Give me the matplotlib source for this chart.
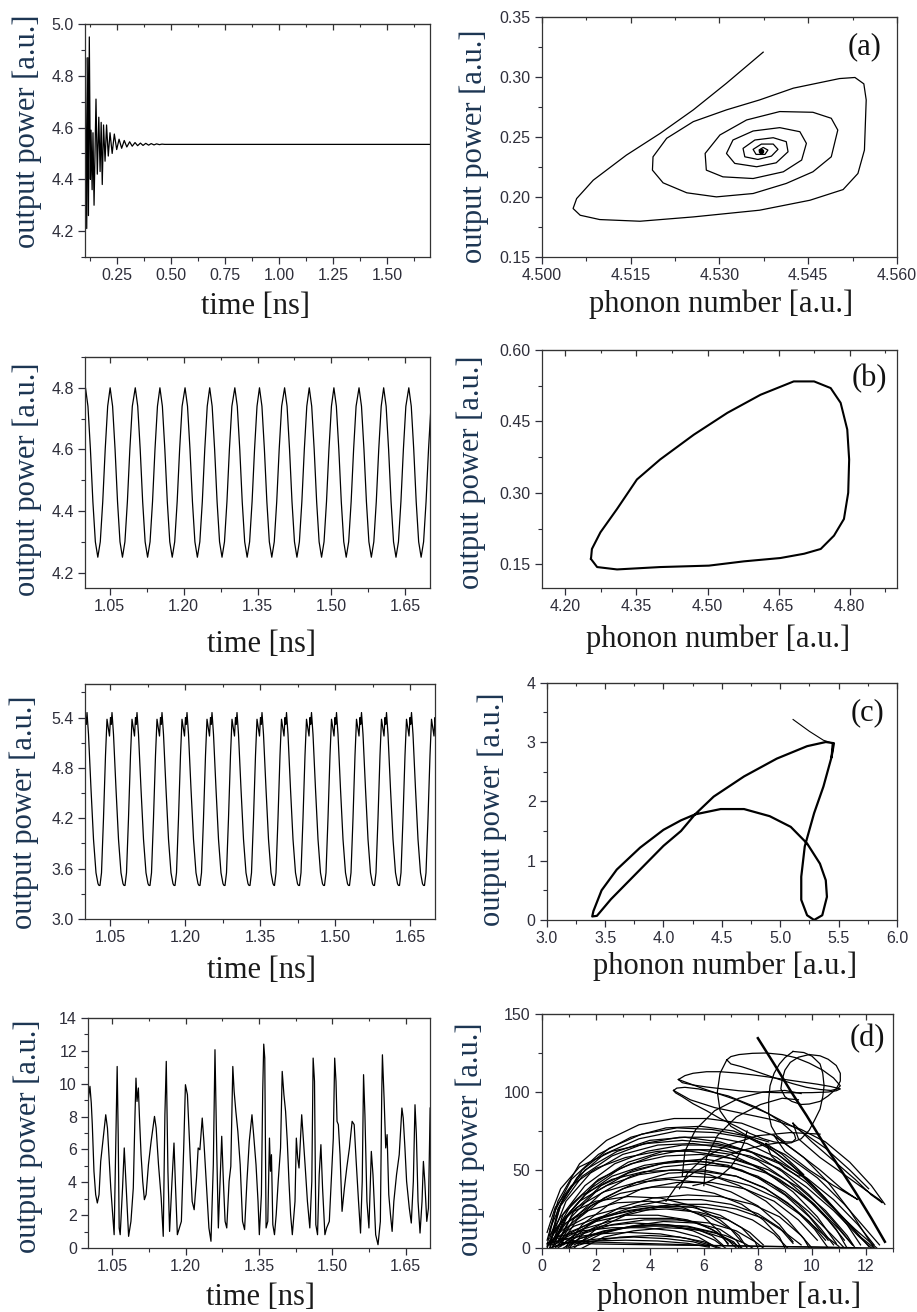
import matplotlib
matplotlib.use('Agg')
import matplotlib.pyplot as plt
from matplotlib.ticker import MultipleLocator, FormatStrFormatter
import numpy as np

# ---------------- data ----------------
# row 1, left: damped relaxation oscillation
a_time = [0.100, 0.103, 0.108, 0.113, 0.116, 0.120, 0.125, 0.128, 0.133, 0.137,
          0.142, 0.151, 0.157, 0.164, 0.170, 0.175, 0.180, 0.186, 0.193, 0.200,
          0.208, 0.216, 0.226, 0.236, 0.247, 0.258, 0.270, 0.282, 0.294, 0.307,
          0.319, 0.332, 0.344, 0.357, 0.369, 0.382, 0.395, 0.407, 0.420, 0.432,
          0.445, 0.457, 0.470, 1.700]
a_power = [4.70, 4.87, 4.21, 4.87, 4.26, 4.95, 4.40, 4.59, 4.36, 4.58,
           4.30, 4.71, 4.42, 4.64, 4.43, 4.62, 4.38, 4.61, 4.47, 4.61,
           4.49, 4.58, 4.50, 4.575, 4.515, 4.555, 4.52, 4.55, 4.525, 4.545,
           4.528, 4.542, 4.530, 4.540, 4.531, 4.539, 4.532, 4.538, 4.533, 4.537,
           4.534, 4.536, 4.535, 4.535]

# row 1, right: spiral into the fixed point (a)
a_phonon_ph = [4.5374, 4.5312, 4.5256, 4.5200, 4.5143, 4.5087, 4.5059, 4.5053, 4.5065, 4.5098,
               4.5166, 4.5256, 4.5368, 4.5453, 4.5509, 4.5534, 4.5545, 4.5548, 4.5544, 4.5529,
               4.5503, 4.5425, 4.5368, 4.5312, 4.5256, 4.5211, 4.5188, 4.5187, 4.5205, 4.5245,
               4.5295, 4.5357, 4.5413, 4.5458, 4.5489, 4.5500, 4.5489, 4.5458, 4.5402, 4.5346,
               4.5301, 4.5276, 4.5278, 4.5306, 4.5357, 4.5408, 4.5439, 4.5447, 4.5436, 4.5402,
               4.5357, 4.5323, 4.5312, 4.5326, 4.5363, 4.5396, 4.5416, 4.5413, 4.5391, 4.5360,
               4.5340, 4.5343, 4.5365, 4.5388, 4.5399, 4.5391, 4.5371, 4.5357, 4.5362, 4.5377,
               4.5382, 4.5374, 4.5367, 4.5372, 4.5371]
a_power_ph = [0.3207, 0.2948, 0.2726, 0.2530, 0.2349, 0.2140, 0.1987, 0.1904, 0.1848, 0.1812,
              0.1798, 0.1834, 0.1890, 0.1973, 0.2062, 0.2196, 0.2391, 0.2809, 0.2943, 0.2996,
              0.2987, 0.2907, 0.2809, 0.2726, 0.2628, 0.2489, 0.2335, 0.2224, 0.2118, 0.2035,
              0.2001, 0.2029, 0.2113, 0.2210, 0.2335, 0.2558, 0.2656, 0.2706, 0.2712, 0.2642,
              0.2517, 0.2363, 0.2224, 0.2168, 0.2154, 0.2210, 0.2308, 0.2447, 0.2544, 0.2578,
              0.2550, 0.2475, 0.2363, 0.2280, 0.2252, 0.2285, 0.2377, 0.2461, 0.2494, 0.2475,
              0.2405, 0.2335, 0.2313, 0.2341, 0.2397, 0.2441, 0.2441, 0.2397, 0.2355, 0.2355,
              0.2391, 0.2413, 0.2391, 0.2377, 0.2386]

# row 2, left: period-1 oscillation (one cycle shape + peak times)
b_peak_times = [0.951, 1.001, 1.051, 1.102, 1.152, 1.203, 1.253, 1.304, 1.354,
                1.405, 1.455, 1.505, 1.556, 1.606, 1.657, 1.707]
b_cycle_offset = [0.000, 0.005, 0.010, 0.015, 0.020, 0.025, 0.030, 0.035, 0.040, 0.045]
b_cycle_power = [4.80, 4.74, 4.60, 4.43, 4.30, 4.25, 4.30, 4.43, 4.60, 4.74]

# row 2, right: limit cycle (b)
b_phonon_ph = [4.254, 4.267, 4.309, 4.400, 4.503, 4.577, 4.654, 4.704, 4.739, 4.767,
               4.788, 4.797, 4.799, 4.795, 4.781, 4.760, 4.725, 4.682, 4.612, 4.542,
               4.471, 4.400, 4.351, 4.309, 4.274, 4.256, 4.254]
b_power_ph = [0.161, 0.144, 0.139, 0.144, 0.147, 0.156, 0.163, 0.172, 0.182, 0.210,
              0.245, 0.300, 0.370, 0.433, 0.489, 0.520, 0.534, 0.534, 0.506, 0.468,
              0.422, 0.370, 0.328, 0.266, 0.217, 0.182, 0.161]

# row 3, left: double-peaked oscillation (one cycle shape + minimum times)
c_min_times = [0.980, 1.030, 1.080, 1.130, 1.180, 1.230, 1.280, 1.330, 1.379,
               1.429, 1.479, 1.529, 1.579, 1.629, 1.679]
c_cycle_offset = [0.000, 0.003, 0.007, 0.011, 0.014, 0.016, 0.019, 0.021,
                  0.0225, 0.024, 0.027, 0.032, 0.037, 0.042, 0.046, 0.048]
c_cycle_power = [3.40, 3.55, 4.20, 4.95, 5.38, 5.30, 5.18, 5.40,
                 5.32, 5.46, 5.20, 4.55, 3.95, 3.55, 3.42, 3.40]

# row 3, right: (c)
c_phonon_ph = [5.11, 5.25, 5.37, 5.45, 5.44, 5.37, 5.29, 5.21, 5.18, 5.18,
               5.23, 5.29, 5.36, 5.40, 5.39, 5.34, 5.23, 5.09, 4.91, 4.69,
               4.49, 4.27, 4.15, 4.00, 3.80, 3.60, 3.47, 3.40, 3.39, 3.43,
               3.55, 3.75, 4.00, 4.15, 4.27, 4.43, 4.69, 4.97, 5.23, 5.39,
               5.46, 5.44]
c_power_ph = [3.38, 3.18, 3.03, 2.98, 2.75, 2.25, 1.80, 1.24, 0.73, 0.34,
              0.08, 0.00, 0.08, 0.39, 0.67, 0.95, 1.29, 1.57, 1.75, 1.87,
              1.87, 1.78, 1.68, 1.52, 1.22, 0.85, 0.50, 0.15, 0.06, 0.07,
              0.35, 0.75, 1.25, 1.50, 1.78, 2.08, 2.42, 2.72, 2.93, 3.00,
              2.98, 2.75]

# row 4, left: chaotic output
d_time = [1.0000, 1.0040, 1.0067, 1.0088, 1.0122, 1.0157, 1.0191, 1.0226, 1.0260, 1.0294,
          1.0329, 1.0363, 1.0398, 1.0432, 1.0466, 1.0515, 1.0535, 1.0570, 1.0597, 1.0618,
          1.0638, 1.0659, 1.0707, 1.0742, 1.0776, 1.0831, 1.0879, 1.0927, 1.0962, 1.0982,
          1.1003, 1.1031, 1.1051, 1.1086, 1.1120, 1.1154, 1.1189, 1.1237, 1.1292, 1.1361,
          1.1395, 1.1443, 1.1498, 1.1540, 1.1574, 1.1602, 1.1636, 1.1670, 1.1719, 1.1760,
          1.1787, 1.1829, 1.1911, 1.1959, 1.1994, 1.2035, 1.2083, 1.2132, 1.2173, 1.2221,
          1.2255, 1.2290, 1.2338, 1.2372, 1.2427, 1.2475, 1.2517, 1.2565, 1.2599, 1.2634,
          1.2668, 1.2737, 1.2771, 1.2806, 1.2840, 1.2888, 1.2923, 1.2964, 1.2991, 1.3026,
          1.3067, 1.3115, 1.3163, 1.3205, 1.3253, 1.3301, 1.3356, 1.3390, 1.3439, 1.3480,
          1.3507, 1.3549, 1.3576, 1.3597, 1.3618, 1.3645, 1.3680, 1.3714, 1.3735, 1.3755,
          1.3783, 1.3817, 1.3852, 1.3893, 1.3941, 1.3975, 1.4010, 1.4044, 1.4079, 1.4113,
          1.4147, 1.4182, 1.4237, 1.4264, 1.4292, 1.4319, 1.4354, 1.4374, 1.4402, 1.4443,
          1.4491, 1.4540, 1.4581, 1.4608, 1.4636, 1.4663, 1.4698, 1.4732, 1.4767, 1.4801,
          1.4849, 1.4884, 1.4939, 1.4994, 1.5021, 1.5049, 1.5076, 1.5097, 1.5124, 1.5159,
          1.5200, 1.5248, 1.5296, 1.5351, 1.5406, 1.5448, 1.5489, 1.5537, 1.5578, 1.5613,
          1.5640, 1.5668, 1.5709, 1.5750, 1.5799, 1.5833, 1.5888, 1.5936, 1.5984, 1.6012,
          1.6026, 1.6060, 1.6094, 1.6122, 1.6156, 1.6191, 1.6225, 1.6260, 1.6315, 1.6370,
          1.6425, 1.6452, 1.6487, 1.6521, 1.6576, 1.6617, 1.6659, 1.6693, 1.6721, 1.6755,
          1.6796, 1.6837, 1.6865, 1.6893, 1.6934, 1.6968, 1.7003]
d_power = [8.92, 9.84, 8.82, 7.51, 4.67, 3.25, 2.74, 3.25, 5.27, 6.19,
           7.10, 8.11, 7.30, 5.48, 3.65, 1.62, 0.81, 6.73, 11.05, 6.90,
           1.22, 0.81, 3.65, 6.09, 4.06, 0.71, 1.62, 3.65, 8.11, 10.34,
           8.92, 9.74, 8.11, 5.68, 4.06, 2.94, 3.25, 5.07, 6.49, 8.01,
           7.30, 5.07, 3.04, 0.71, 8.11, 11.36, 4.67, 1.01, 4.06, 6.39,
           4.06, 0.81, 1.62, 6.09, 9.94, 9.33, 6.09, 2.84, 2.33, 4.26,
           6.09, 5.98, 7.91, 6.49, 3.65, 1.22, 0.41, 5.07, 12.07, 6.09,
           1.22, 6.80, 4.06, 1.62, 1.22, 4.06, 4.97, 11.05, 9.53, 8.32,
           7.10, 5.07, 1.62, 1.12, 4.06, 6.49, 8.11, 6.90, 5.07, 2.84,
           0.81, 3.25, 9.53, 12.41, 11.56, 1.22, 1.62, 6.69, 4.67, 5.68,
           1.42, 0.81, 2.03, 4.06, 6.09, 10.75, 9.33, 8.32, 6.49, 4.06,
           2.03, 0.81, 2.84, 6.69, 5.48, 4.87, 7.00, 8.11, 6.90, 5.07,
           2.84, 1.22, 4.06, 11.56, 10.14, 1.42, 0.81, 4.46, 6.29, 3.65,
           0.81, 1.22, 1.62, 5.07, 6.69, 11.56, 10.14, 7.71, 7.51, 5.68,
           2.23, 3.65, 4.87, 6.09, 7.71, 7.51, 5.27, 2.84, 0.91, 4.06,
           10.55, 8.11, 2.84, 1.22, 5.88, 4.46, 0.81, 0.20, 1.62, 9.33,
           11.76, 9.13, 6.09, 6.90, 3.25, 2.03, 1.01, 2.84, 4.46, 5.68,
           8.52, 7.91, 6.09, 4.06, 2.43, 1.52, 4.06, 8.72, 6.90, 2.84,
           0.91, 2.84, 5.27, 4.06, 1.62, 2.43, 8.52]

# row 4, right: chaotic attractor (d) -- arcs (phonon, power)
d_arcs = [
    [(0.2, 5), (0.6, 30), (1.4, 54), (2.4, 69), (3.6, 79), (4.9, 83), (6.1, 83), (7.4, 80),
     (8.6, 72), (9.7, 58), (10.6, 42), (11.4, 24), (12.0, 8), (12.3, 0)],
    [(0.3, 0), (0.6, 25), (1.3, 45), (2.3, 60), (3.6, 70), (5.0, 75), (6.4, 74), (7.8, 70),
     (9.0, 60), (10.2, 45), (11.2, 28), (12.0, 12), (12.5, 2)],
    [(0.3, 20), (0.7, 38), (1.4, 52), (2.6, 62), (3.9, 67), (5.2, 69), (6.5, 67), (7.7, 62),
     (8.8, 54), (9.8, 42), (10.7, 27), (11.6, 12), (12.4, 0)],
    [(0.3, 12), (0.8, 32), (1.6, 50), (2.8, 62), (4.0, 69), (5.3, 71), (6.6, 68), (7.8, 61),
     (8.9, 49), (9.9, 34), (10.8, 17), (11.5, 2)],
    [(0.4, 8), (0.9, 30), (1.8, 48), (3.0, 60), (4.3, 66), (5.6, 67), (6.8, 64), (8.0, 56),
     (9.1, 43), (10.1, 28), (10.9, 12), (11.3, 0)],
    [(0.5, 10), (1.1, 28), (2.1, 44), (3.3, 54), (4.6, 59), (5.9, 60), (7.2, 57), (8.4, 50),
     (9.5, 39), (10.5, 24), (11.3, 8), (11.6, 0)],
    [(0.5, 4), (1.0, 22), (2.0, 42), (3.2, 55), (4.5, 62), (5.8, 63), (7.0, 60), (8.2, 50),
     (9.3, 36), (10.2, 20), (10.9, 3)],
    [(0.3, 2), (0.7, 28), (1.5, 50), (2.5, 64), (3.7, 73), (5.0, 77), (6.3, 76), (7.5, 72),
     (8.6, 62), (9.6, 48), (10.5, 32), (11.3, 15), (11.8, 2)],
    [(0.6, 3), (1.1, 20), (2.0, 36), (3.2, 48), (4.4, 54), (5.7, 56), (6.9, 53), (8.0, 45),
     (9.0, 34), (9.9, 20), (10.6, 5)],
    [(0.4, 0), (0.8, 18), (1.6, 34), (2.6, 46), (3.8, 53), (5.0, 56), (6.2, 55), (7.4, 50),
     (8.5, 41), (9.5, 28), (10.3, 13), (10.8, 2)],
    [(0.7, 2), (1.3, 18), (2.3, 32), (3.5, 42), (4.7, 48), (6.0, 49), (7.2, 46), (8.3, 38),
     (9.3, 26), (10.1, 12), (10.6, 0)],
    [(0.9, 1), (1.5, 15), (2.5, 28), (3.7, 38), (5.0, 42), (6.3, 42), (7.5, 38), (8.6, 30),
     (9.5, 18), (10.2, 5)],
    [(1.0, 3), (1.8, 16), (2.9, 26), (4.1, 32), (5.4, 34), (6.6, 33), (7.8, 28), (8.8, 20),
     (9.6, 8), (10.0, 0)],
    [(1.2, 0), (2.0, 12), (3.1, 21), (4.3, 26), (5.6, 27), (6.8, 24), (7.8, 18), (8.6, 9), (9.1, 0)],
    [(0.5, 6), (1.2, 14), (2.2, 20), (3.4, 24), (4.6, 25), (5.8, 23), (6.9, 18), (7.7, 10), (8.2, 2)],
    [(0.8, 2), (1.5, 9), (2.6, 15), (3.8, 18), (5.0, 18), (6.2, 16), (7.2, 11), (7.9, 4), (8.2, 0)],
    [(1.5, 0), (2.3, 7), (3.4, 11), (4.6, 13), (5.8, 12), (6.8, 8), (7.5, 3), (7.8, 0)],
    [(0.2, 0), (0.5, 12), (1.0, 22), (2.0, 30), (3.2, 33), (4.4, 32), (5.6, 27), (6.6, 18),
     (7.3, 8), (7.6, 0)],
    [(0.6, 0), (1.2, 8), (2.2, 14), (3.4, 16), (4.6, 15), (5.6, 11), (6.4, 5), (6.8, 0)],
    [(0.3, 3), (0.9, 6), (2.0, 9), (3.2, 10), (4.4, 9), (5.4, 6), (6.2, 2), (6.5, 0)],
    [(0.4, 0), (0.9, 20), (1.8, 38), (2.9, 51), (4.1, 59), (5.3, 63), (6.5, 63), (7.7, 59),
     (8.8, 51), (9.8, 39), (10.8, 24), (11.7, 8), (12.2, 0)],
    [(0.3, 6), (0.7, 27), (1.5, 46), (2.6, 59), (3.8, 67), (5.1, 71), (6.4, 71), (7.6, 67),
     (8.7, 58), (9.7, 45), (10.6, 30), (11.5, 13), (12.1, 1)],
    [(0.6, 1), (1.2, 19), (2.2, 35), (3.3, 46), (4.5, 52), (5.7, 54), (6.9, 52), (8.0, 46),
     (9.0, 36), (9.9, 23), (10.7, 9), (11.2, 0)],
    [(0.5, 2), (1.0, 14), (1.9, 28), (3.0, 38), (4.2, 44), (5.4, 46), (6.6, 45), (7.7, 40),
     (8.7, 32), (9.6, 21), (10.4, 9), (11.0, 1)],
    [(1.0, 0), (1.6, 10), (2.6, 19), (3.7, 25), (4.9, 28), (6.1, 28), (7.2, 25), (8.2, 19),
     (9.0, 10), (9.6, 2)],
    [(0.2, 2), (0.5, 24), (1.1, 44), (2.1, 60), (3.3, 71), (4.6, 77), (5.9, 78), (7.1, 75),
     (8.2, 67), (9.2, 54), (10.1, 39), (11.0, 22), (11.8, 7), (12.3, 0)],
    [(0.4, 1), (1.0, 10), (2.0, 17), (3.1, 21), (4.3, 21), (5.4, 18), (6.3, 12), (6.9, 5), (7.2, 0)],
    [(0.8, 0), (1.4, 6), (2.4, 11), (3.6, 14), (4.8, 14), (5.9, 11), (6.8, 6), (7.4, 0)],
    [(0.3, 2), (0.8, 15), (1.7, 24), (2.8, 29), (4.0, 30), (5.1, 27), (6.0, 20), (6.6, 10), (6.9, 2)],
    [(1.0, 0), (1.8, 4), (2.9, 7), (4.0, 8), (5.1, 7), (6.0, 4), (6.6, 0)],
    [(0.3, 8), (0.7, 20), (1.5, 34), (2.6, 44), (3.8, 49), (5.0, 50), (6.2, 47), (7.3, 40),
     (8.3, 30), (9.1, 18), (9.7, 6), (9.9, 0)],
    [(0.4, 4), (0.9, 16), (1.8, 27), (2.9, 35), (4.1, 39), (5.3, 39), (6.4, 35), (7.4, 28),
     (8.2, 18), (8.8, 7), (9.0, 0)],
    [(0.2, 1), (0.6, 14), (1.3, 26), (2.3, 36), (3.5, 42), (4.7, 44), (5.9, 42), (7.0, 36),
     (8.0, 27), (8.8, 15), (9.3, 4)],
    [(0.5, 0), (1.0, 9), (2.0, 18), (3.2, 24), (4.4, 27), (5.6, 26), (6.6, 21), (7.4, 13),
     (7.9, 4), (8.0, 0)],
    [(0.7, 1), (1.3, 10), (2.3, 20), (3.5, 27), (4.7, 31), (5.9, 31), (7.0, 28), (8.0, 22),
     (8.8, 13), (9.3, 3)],
    [(0.3, 4), (0.8, 12), (1.7, 20), (2.8, 25), (4.0, 27), (5.2, 25), (6.2, 20), (7.0, 12), (7.4, 4)],
    [(1.2, 2), (1.9, 8), (3.0, 13), (4.2, 15), (5.4, 14), (6.4, 10), (7.1, 4), (7.3, 0)],
    [(0.2, 10), (0.5, 26), (1.1, 40), (2.0, 51), (3.1, 58), (4.3, 62), (5.5, 62), (6.7, 59),
     (7.8, 53), (8.8, 44), (9.8, 32), (10.6, 18), (11.2, 5)],
    [(0.4, 2), (0.8, 22), (1.6, 40), (2.7, 54), (3.9, 62), (5.2, 66), (6.5, 66), (7.7, 62),
     (8.8, 55), (9.8, 45), (10.8, 31), (11.7, 15), (12.3, 2)],
    [(0.6, 4), (1.2, 24), (2.2, 40), (3.4, 50), (4.7, 55), (6.0, 57), (7.2, 54), (8.3, 48),
     (9.3, 38), (10.2, 26), (11.0, 12), (11.5, 2)],
    [(0.3, 0), (0.7, 16), (1.4, 30), (2.4, 40), (3.6, 47), (4.8, 50), (6.0, 50), (7.2, 46),
     (8.2, 39), (9.1, 29), (9.9, 17), (10.5, 5)],
    [(0.9, 0), (1.4, 6), (2.3, 11), (3.4, 14), (4.6, 15), (5.6, 13), (6.3, 8), (6.7, 2)],
    [(0.2, 3), (0.6, 7), (1.5, 11), (2.6, 13), (3.8, 13), (4.9, 11), (5.8, 7), (6.3, 2)],
    [(0.5, 1), (1.1, 4), (2.2, 6), (3.4, 7), (4.6, 6), (5.6, 4), (6.2, 1)],
    [(0.3, 0), (0.8, 3), (1.9, 4.5), (3.1, 5), (4.3, 4.5), (5.4, 3), (6.2, 0.5)],
    [(0.8, 6), (1.5, 12), (2.5, 17), (3.6, 19), (4.8, 19), (5.8, 16), (6.5, 10), (6.9, 3)],
    [(1.5, 3), (2.2, 9), (3.3, 14), (4.5, 17), (5.7, 16), (6.6, 12), (7.2, 5), (7.4, 0)],
    [(12.3, 0), (11.0, 0.4), (9.5, 0.8), (8.0, 1.2), (6.5, 1.6), (5.0, 1.8), (3.5, 2.2),
     (2.0, 2.6), (0.8, 3.5), (0.3, 5)],
    [(11.6, 0), (10.0, 0.6), (8.2, 1.0), (6.5, 1.5), (4.8, 2.4), (3.0, 3.3), (1.5, 4.0), (0.6, 6)],
]
# upper loops and crossing strands of (d)
d_loops = [
    [(5.06, 108), (5.3, 110.5), (5.6, 112), (6.1, 113), (6.6, 113), (7.2, 112.2), (7.8, 111),
     (8.4, 109.6), (9.0, 108), (9.6, 106.5), (10.2, 105), (10.7, 103.5), (11.05, 102),
     (10.9, 100.8), (10.6, 100), (10.0, 99.6), (9.4, 99.5), (8.7, 99.6), (8.0, 100),
     (7.3, 100.8), (6.7, 102), (6.1, 103.2), (5.6, 104.5), (5.2, 106), (5.06, 108)],
    [(4.88, 101), (5.0, 102.5), (5.3, 103), (5.8, 102), (6.3, 100), (6.9, 97.5), (7.4, 94),
     (7.9, 90.5), (8.4, 86), (8.8, 81.5), (9.1, 77), (9.35, 73), (9.4, 70), (9.25, 67.5),
     (9.0, 67), (8.6, 68), (8.2, 70), (7.7, 73.5), (7.2, 78), (6.6, 83), (6.1, 88),
     (5.6, 92.5), (5.2, 97), (4.95, 99.5), (4.88, 101)],
    [(6.85, 120.6), (7.0, 122.7), (7.3, 124), (7.8, 124.8), (8.3, 125), (8.9, 124), (9.4, 122),
     (9.9, 118.5), (10.4, 114), (10.8, 109), (11.05, 104), (10.95, 102), (10.7, 101),
     (10.3, 101.6), (9.8, 103), (9.3, 105.3), (8.8, 108), (8.3, 111), (7.8, 114),
     (7.4, 116.2), (7.0, 118), (6.85, 120.6)],
    [(9.3, 126), (9.7, 125.3), (10.0, 123), (10.3, 118), (10.4, 112), (10.45, 104), (10.4, 97),
     (10.3, 89), (10.1, 82), (9.9, 75.5), (9.6, 70), (9.3, 68), (9.0, 68), (8.7, 72),
     (8.5, 78), (8.4, 86), (8.4, 95), (8.45, 104), (8.6, 112), (8.8, 118), (9.0, 122),
     (9.3, 126)],
    [(9.9, 124), (10.3, 123.2), (10.6, 121), (10.9, 117), (11.05, 112), (11.05, 107),
     (10.9, 102), (10.6, 97.5), (10.3, 94), (9.9, 92.3), (9.6, 92), (9.25, 94), (9.0, 97),
     (8.85, 102), (8.9, 108), (9.0, 114), (9.2, 119), (9.5, 122.3), (9.9, 124)],
    [(9.3, 80), (10.0, 68), (10.8, 56), (11.6, 44), (12.2, 34), (12.6, 29), (12.5, 31),
     (12.0, 37), (11.2, 47), (10.3, 58), (9.5, 70), (9.3, 80)],
    [(8.6, 72), (9.4, 62), (10.3, 50), (11.1, 38), (11.7, 31), (11.5, 33), (10.8, 40),
     (9.9, 50), (9.0, 62), (8.6, 72)],
    [(8.3, 67), (8.9, 60), (9.4, 52), (9.7, 47), (9.5, 46), (9.0, 51), (8.5, 59), (8.3, 67)],
    [(5.2, 46), (5.3, 62), (5.7, 76), (6.4, 88), (7.3, 96), (8.2, 100), (9.0, 101), (9.6, 99)],
    [(6.0, 40), (6.1, 58), (6.5, 72), (7.2, 84), (8.1, 92), (8.9, 96), (9.5, 95)],
    [(7.6, 75), (7.5, 68), (7.3, 60), (7.0, 52), (6.6, 46), (6.1, 42), (5.6, 40)],
    [(9.0, 68), (8.2, 66), (7.3, 62), (6.4, 56), (5.6, 48), (5.0, 40), (4.6, 30)],
    [(10.3, 73), (9.2, 74), (8.0, 72), (6.9, 66), (6.0, 58), (5.4, 48), (5.1, 38)],
    [(6.85, 120.6), (6.6, 112), (6.5, 100), (6.6, 88), (7.0, 78), (7.6, 72), (8.4, 68)],
    [(4.88, 101), (5.5, 95), (6.4, 90), (7.5, 86), (8.6, 82), (9.6, 76), (10.5, 68),
     (11.4, 55), (12.2, 40), (12.7, 28)],
    [(5.06, 108), (6.0, 102), (7.2, 95), (8.4, 86), (9.5, 76), (10.5, 64), (11.4, 50), (12.1, 38)],
]
d_thick_phonon = [8.0, 8.6, 9.2, 9.8, 10.4, 11.0, 11.6, 12.2, 12.7]
d_thick_power = [134.5, 118, 101, 85, 68, 52, 36, 19, 4]

# ---------------- styling ----------------
plt.rcParams['font.family'] = ['Liberation Sans', 'DejaVu Sans']
TICK_COLOR = '#2e2e3a'
YLABEL_COLOR = '#1c3552'
XLABEL_COLOR = '#1a1a1a'
SERIF = 'Liberation Serif'
LINE = '#000000'

fig = plt.figure(figsize=(9.17, 13.12), dpi=100)
W, H = 917.0, 1312.0


def box(left, top, right, bottom):
    return fig.add_axes([left / W, 1 - bottom / H, (right - left) / W, (bottom - top) / H])


def style(ax, xlim, ylim, xmaj, xmin, ymaj, ymin, xfmt, yfmt, xlabel, ylab_xy, xlab_xy):
    ax.set_xlim(*xlim)
    ax.set_ylim(*ylim)
    ax.xaxis.set_major_locator(MultipleLocator(xmaj))
    ax.xaxis.set_minor_locator(MultipleLocator(xmin))
    ax.yaxis.set_major_locator(MultipleLocator(ymaj))
    ax.yaxis.set_minor_locator(MultipleLocator(ymin))
    ax.xaxis.set_major_formatter(FormatStrFormatter(xfmt))
    ax.yaxis.set_major_formatter(FormatStrFormatter(yfmt))
    ax.tick_params(which='both', direction='out', colors=TICK_COLOR, labelsize=11.5,
                   top=False, right=False)
    ax.tick_params(which='major', length=5, width=0.9, pad=3)
    ax.tick_params(which='minor', length=3, width=0.8)
    for sp in ax.spines.values():
        sp.set_color('#333333')
        sp.set_linewidth(0.9)
    top = ax.secondary_xaxis('top')
    top.xaxis.set_major_locator(MultipleLocator(xmaj))
    top.xaxis.set_minor_locator(MultipleLocator(xmin))
    top.tick_params(which='both', direction='in', labeltop=False, colors='#333333')
    top.tick_params(which='major', length=4, width=0.9)
    top.tick_params(which='minor', length=2.5, width=0.8)
    ax.set_xlabel(xlabel, family=SERIF, fontsize=22, color=XLABEL_COLOR)
    ax.set_ylabel('output power [a.u.]', family=SERIF, fontsize=22, color=YLABEL_COLOR)
    ax.yaxis.set_label_coords(*ylab_xy)
    ax.xaxis.set_label_coords(*xlab_xy)


def tag(ax, text, x, y):
    ax.text(x, y, text, transform=ax.transAxes, ha='right', va='center',
            family=SERIF, fontsize=22, color='#111111')


# ---- row 1 ----
ax = box(85, 24, 430, 257)
ax.plot(a_time, a_power, color=LINE, lw=0.9)
style(ax, (0.10, 1.70), (4.10, 5.00), 0.25, 0.125, 0.2, 0.1, '%.2f', '%.1f',
      'time [ns]', (-0.125, 0.54), (0.493, -0.15))

ax = box(541.7, 17, 897, 257)
ax.plot(a_phonon_ph, a_power_ph, color=LINE, lw=0.9)
ax.plot(a_phonon_ph[-1], a_power_ph[-1], 'o', color=LINE, ms=3)
style(ax, (4.500, 4.560), (0.15, 0.35), 0.015, 0.0075, 0.05, 0.025, '%.3f', '%.2f',
      'phonon number [a.u.]', (-0.148, 0.4625), (0.504, -0.135))
tag(ax, '(a)', 0.957, 0.875)

# ---- row 2 ----
b_time = np.concatenate([pk + np.array(b_cycle_offset) for pk in b_peak_times])
b_power = np.tile(b_cycle_power, len(b_peak_times))
ax = box(85, 357, 430, 588)
ax.plot(b_time, b_power, color=LINE, lw=0.9)
style(ax, (1.00, 1.70), (4.15, 4.90), 0.15, 0.075, 0.2, 0.1, '%.2f', '%.1f',
      'time [ns]', (-0.125, 0.472), (0.512, -0.18))

ax = box(541.7, 350, 897, 588)
ax.plot(b_phonon_ph, b_power_ph, color=LINE, lw=1.5)
style(ax, (4.15, 4.90), (0.10, 0.60), 0.15, 0.075, 0.15, 0.075, '%.2f', '%.2f',
      'phonon number [a.u.]', (-0.157, 0.485), (0.496, -0.153))
tag(ax, '(b)', 0.971, 0.882)

# ---- row 3 ----
c_time = np.concatenate([tm + np.array(c_cycle_offset) for tm in c_min_times])
c_power = np.tile(c_cycle_power, len(c_min_times))
ax = box(85, 684, 435, 919)
ax.plot(c_time, c_power, color=LINE, lw=0.9)
style(ax, (1.00, 1.70), (3.0, 5.8), 0.15, 0.075, 0.6, 0.3, '%.2f', '%.1f',
      'time [ns]', (-0.131, 0.453), (0.505, -0.158))

ax = box(546.7, 682.7, 897, 920)
ax.plot(c_phonon_ph[:4], c_power_ph[:4], color=LINE, lw=0.8)
ax.plot(c_phonon_ph[3:], c_power_ph[3:], color=LINE, lw=1.6)
style(ax, (3.0, 6.0), (0, 4), 0.5, 0.25, 1, 0.5, '%.1f', '%d',
      'phonon number [a.u.]', (-0.114, 0.468), (0.509, -0.132))
tag(ax, '(c)', 0.963, 0.872)

# ---- row 4 ----
ax = box(88, 1018, 430, 1248)
ax.plot(d_time, d_power, color=LINE, lw=0.9)
style(ax, (1.00, 1.70), (0, 14), 0.15, 0.075, 2, 1, '%.2f', '%d',
      'time [ns]', (-0.131, 0.487), (0.503, -0.152))

ax = box(541.7, 1014, 893, 1248)
for arc in d_arcs:
    xs, ys = zip(*arc)
    ax.plot(xs, ys, color=LINE, lw=0.9)
for loop in d_loops:
    xs, ys = zip(*loop)
    ax.plot(xs, ys, color=LINE, lw=0.9)
ax.plot(d_thick_phonon, d_thick_power, color=LINE, lw=1.8)
style(ax, (0, 13), (0, 150), 2, 1, 50, 25, '%d', '%d',
      'phonon number [a.u.]', (-0.162, 0.466), (0.532, -0.142))
tag(ax, '(d)', 0.978, 0.897)

fig.savefig('out.png', dpi=100)
